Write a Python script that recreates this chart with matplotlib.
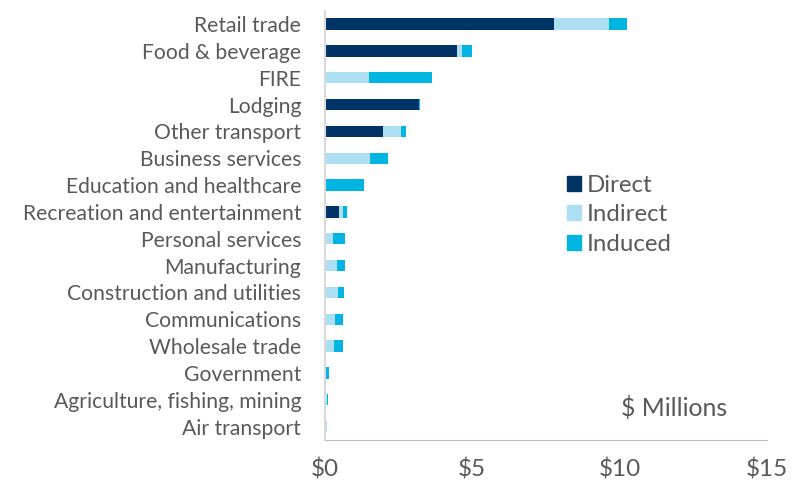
import matplotlib
matplotlib.use("Agg")
import matplotlib.pyplot as plt
from matplotlib.patches import Patch
import numpy as np

categories = ["Retail trade", "Food & beverage", "FIRE", "Lodging", "Other transport",
              "Business services", "Education and healthcare", "Recreation and entertainment",
              "Personal services", "Manufacturing", "Construction and utilities",
              "Communications", "Wholesale trade", "Government",
              "Agriculture, fishing, mining", "Air transport"]
direct = [7.77, 4.47, 0.00, 3.18, 1.97, 0.00, 0.00, 0.48, 0.00, 0.00, 0.00, 0.00, 0.00, 0.00, 0.00, 0.00]
indirect = [1.86, 0.18, 1.50, 0.01, 0.61, 1.53, 0.03, 0.14, 0.27, 0.43, 0.46, 0.36, 0.31, 0.05, 0.08, 0.06]
induced = [0.61, 0.35, 2.15, 0.03, 0.18, 0.63, 1.30, 0.12, 0.41, 0.25, 0.18, 0.25, 0.31, 0.10, 0.03, 0.02]
series_names = ["Direct", "Indirect", "Induced"]
xticks = [0, 5, 10, 15]
xtick_labels = ["$0", "$5", "$10", "$15"]

colors = ["#003466", "#ADDFF3", "#00B5E2"]
grey = "#595959"
plt.rcParams['font.family'] = ['Lato', 'DejaVu Sans']

fig = plt.figure(figsize=(7.94, 4.87), dpi=100)
ax = fig.add_axes([0.409, 0.0965, 0.557, 0.8815])

y = np.arange(len(categories))
d = np.array(direct); i1 = np.array(indirect); i2 = np.array(induced)
h = 0.42
ax.barh(y, d, height=h, color=colors[0])
ax.barh(y, i1, left=d, height=h, color=colors[1])
ax.barh(y, i2, left=d + i1, height=h, color=colors[2])

ax.set_ylim(len(categories) - 0.5, -0.5)
ax.set_xlim(0, 15)
ax.set_yticks(y)
ax.set_yticklabels(categories, fontsize=15.2, color=grey)
ax.set_xticks(xticks)
ax.set_xticklabels(xtick_labels, fontsize=17.5, color=grey)
ax.tick_params(axis='both', length=0)
ax.tick_params(axis='x', pad=13)
ax.tick_params(axis='y', pad=17)
for s in ["top", "right"]:
    ax.spines[s].set_visible(False)
ax.spines["left"].set_color("#D9D9D9")
ax.spines["bottom"].set_color("#BFBFBF")
ax.spines["left"].set_linewidth(1.5)

handles = [Patch(color=c, label=n) for c, n in zip(colors, series_names)]
leg = ax.legend(handles=handles, loc="upper left", bbox_to_anchor=(0.525, 0.64),
                frameon=False, fontsize=17.3, handlelength=0.6, handleheight=0.6,
                handletextpad=0.25, labelspacing=0.35, borderaxespad=0)
for t in leg.get_texts():
    t.set_color(grey)

ax.text(0.91, 0.075, "$ Millions", transform=ax.transAxes, fontsize=17.8,
        color=grey, ha="right", va="center")

fig.savefig("out.png", dpi=100)
